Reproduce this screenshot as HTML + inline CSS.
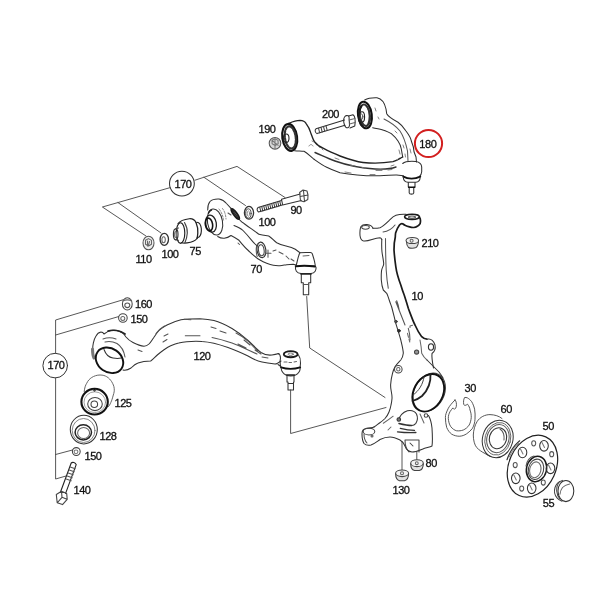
<!DOCTYPE html>
<html><head><meta charset="utf-8">
<style>
html,body{margin:0;padding:0;background:#fff;}
svg{display:block;will-change:transform;}
text{font-family:"Liberation Sans",sans-serif;font-size:11px;letter-spacing:-0.45px;fill:#111;stroke:#111;stroke-width:0.3px;}
</style></head>
<body>
<svg width="600" height="600" viewBox="0 0 600 600">
<g fill="none" stroke="#2e2e2e" stroke-width="1.05" stroke-linecap="round" stroke-linejoin="round">

<!-- ===== UPPER ARM 180 ===== -->
<g id="arm180">
  <!-- outer outline right arm + housing -->
  <path d="M364.7,100 C368,98 372,97.5 377,97.7 C381,98.5 384.5,102 386,109 L386.7,113.7 C388,116 392,119 398,122.3 C402,125 404,128 406,131 C409,135 411,139 411.3,141 C413,145 414,149 414,151.7 L416,157 L416.5,162"/>
  <!-- inner edge right arm -->
  <path d="M372.7,127.7 C376,128.5 379,129 382,129.7 C386,131 389,132 391.3,133.7 C394,136 396,138 398,141 C400,144 401,147 401.3,149 L402.7,157"/>
  <!-- inner contour line right arm -->
  <path d="M384,119 C390,122 396,126 400,131 C404,137 406,144 407.5,151 L408,161" stroke="#555"/>
  <!-- left housing top and left arm upper edge -->
  <path stroke-width="1.35" stroke="#222" d="M289,123.3 C293,121.5 297,120.4 300,120.4 C303,120.5 305,121.5 306,123.3 C308,126 310,130 310.7,132.7 C312,136 313,140 314.7,142 C317,145 320,147 324,148.7 C330,152 335,154 340,156 C348,159 355,161.5 363,162.5 C372,163.5 385,163 393,161.7 C397,160.5 399,159 402.7,157"/>
  <!-- left arm lower edge -->
  <path d="M294.7,150.7 C298,151 301,151 304,151.3 C307,153 310,156 313.3,158.7 C318,162 322,165 326.7,167.3 C331,169.5 335,171 340,172.7 C352,175 367,176 380,175.8 C388,175.5 393,174.8 396.7,175 L403.3,175.8"/>
  <!-- left arm inner contour -->
  <path d="M315,152.5 C322,155.5 328,158.5 335,161 C345,164.5 360,168 375,169 C385,169.5 392,168.5 396,167" stroke="#333" stroke-width="1.4"/>
  
  <path d="M312,141 l2,1 M309,146 c1,-2 3,-2 4,0 M318,146 l1.5,1.5 M322,149 l1,1 M335,158 l4,1.5 M350,165 l5,1 M362,167.5 l4,0.5 M376,170.5 l6,0 M388,170 l4,-0.5 M345,172 l6,1 M370,174.5 l5,0 M391,166 l3,-1 M397,160 l2,-2 M375,108 l1,3 M378,117 l1,2 M395,131 l2,2 M403,145 l1,3 M405,154 l0.5,3 M399,150 l1,4 M410,149 l1,4" stroke="#777" stroke-width="0.9"/>
  <!-- left bushing -->
  <ellipse cx="289.7" cy="137.4" rx="7.4" ry="13.6" transform="rotate(-8 289.7 137.4)" stroke="#111" stroke-width="2.1"/>
  <ellipse cx="290.3" cy="137.4" rx="5.4" ry="11.2" transform="rotate(-8 290.3 137.4)" stroke="#333" stroke-width="2.2" stroke-dasharray="2.2 1.3"/>
  <ellipse cx="286.2" cy="138.2" rx="2.8" ry="4.2" stroke="#222" stroke-width="1.1"/>
  <!-- right bushing -->
  <ellipse cx="364.9" cy="115" rx="6.9" ry="13.4" transform="rotate(-8 364.9 115)" stroke="#111" stroke-width="2"/>
  <ellipse cx="364.9" cy="115.2" rx="5" ry="10.8" transform="rotate(-8 364.9 115.2)" stroke="#333" stroke-width="2" stroke-dasharray="2.5 1.2"/>
  <path d="M361.5,106 C359,109 358.5,116 359.5,121 C360,123.5 361,125 362.5,126" stroke="#1a1a1a" stroke-width="2"/>
  <path d="M366,105.5 C369,107.5 370,114.5 369,120.5 C368.5,123.5 367.5,125.5 366,126.5" stroke="#333" stroke-width="1.4"/>
  <ellipse cx="362" cy="117" rx="2.6" ry="5.2" stroke="#222" stroke-width="1.1"/>
  <ellipse cx="361.6" cy="116.8" rx="1.3" ry="2.8" stroke="#444" stroke-width="0.9"/>
  <!-- ball joint 180 -->
  <path d="M402.7,163.5 C405,161.5 409,161 415.8,161.5 C419,162 421.5,164 421.7,167 L421.7,171.7 C421.5,174 420.5,175.5 419.5,176.5"/>
  <path d="M403.3,176.6 C408,179 415,179 420.2,176.6" stroke="#111" stroke-width="2"/>
  <path d="M403.3,177.5 C403.5,180 405,182 408,182.3 L415.8,182.3 C418.5,182 420,180 420.2,177.5"/>
  <path d="M408.3,182.5 L408.3,186.7 L409.2,187.5 L409.2,193 C409.5,194.5 413.5,194.5 413.75,193 L413.75,187.5 L415,186.7 L415,182.5"/>
  <path d="M408.6,187.2 L414.7,187.2" stroke="#111" stroke-width="1.5"/>
  <!-- bolt 200 -->
  <path d="M316,128.8 L344.5,120 M317,133.6 L345,125.2 M316,128.8 C314.5,130 315,132.5 317,133.6"/>
  <path d="M318.5,128.2 l1.2,4.6 M321,127.4 l1.2,4.6 M323.5,126.6 l1.2,4.6 M326,125.8 l1.2,4.6" stroke="#444"/>
  <path d="M344.5,117 C343,119 343.5,125 346,127.5 C348,128.5 349.5,127 349.5,125 L349,116.5 C347.5,115 345.5,115.5 344.5,117 Z"/>
  <path d="M348.5,116 L353,114.7 C355,116 355.5,121 354.8,126 L350,128"/>
  <path d="M349,120 L355,118.5 M349.5,124 L355,122.5" stroke="#666"/>
  <!-- nut 190 -->
  <circle cx="275" cy="143.3" r="5.8" stroke="#555" fill="#d8d8d8"/>
  <path d="M272,140.3 l3,-1.6 l3,1.7 l0.2,3.3 l-3,1.8 l-3.1,-1.7 z M275,138.7 L275,148.3 M272,140.3 l6.2,5" stroke="#777"/>
</g>


<!-- ===== GROUP 170 TOP ===== -->
<g id="g170top" stroke="#333">
  <circle cx="181.9" cy="183.6" r="12.4" stroke="#333"/>
  <path d="M170.2,187.6 L102.4,207 L146,236 M118,202.6 L161,233 M195,180.2 L237,166.4 L285,197.5 M204,177.3 L245.5,205.5" stroke="#444" stroke-width="0.9"/>
</g>
<!-- nut 110 -->
<g stroke="#555">
  <ellipse cx="148.5" cy="243" rx="5.5" ry="6.8" fill="#eeeeee"/>
  <path d="M145.5,240.3 l3,-1.7 l3,1.8 l0,3.8 l-3,1.8 l-3,-1.8 z M147.5,241 l0,5 M149.5,241.5 l-1,3.5" stroke="#666"/>
</g>
<!-- washer 100 left -->
<g stroke="#333">
  <ellipse cx="164.3" cy="239.3" rx="4.2" ry="6" stroke-width="1.3"/>
  <ellipse cx="163.6" cy="239.8" rx="1.7" ry="3" stroke="#666"/>
</g>
<!-- bushing 75 -->
<g stroke="#222" stroke-width="1.15">
  <path d="M178,223.5 C180,221 184,219.3 189.3,218.7 C192,218.5 194.5,219.5 196,222.5"/>
  <path d="M181.3,242.7 C184,243.5 190,243 193.3,241.3 C195,240.5 196.2,239.5 197,238.5"/>
  <path d="M196,222.5 C197.5,226 198,230 197.8,233 C197.6,236 197.3,237.5 197,238.5" stroke="#222" stroke-width="1.3"/>
  <path d="M197,222.3 C199,222.5 200.8,225 201.3,228.5 C201.6,232 200.8,235.5 199,237 L197.2,237.8"/>
  <ellipse cx="180.5" cy="233" rx="4.3" ry="10.3"/>
  <path d="M184.5,222.5 C186.5,226 187.5,230 187.3,233 C187,237 186.3,240 185,242.5" stroke="#444"/>
  <ellipse cx="175.7" cy="234.3" rx="2.3" ry="5.5" stroke="#333"/>
  <path d="M175.7,228.8 L178.5,228 M175.7,239.8 L178.5,240.3" stroke="#444"/>
  <ellipse cx="175.5" cy="234.5" rx="1" ry="3" stroke="#777"/>
</g>
<!-- washer 100 right -->
<g stroke="#333">
  <ellipse cx="249" cy="212.8" rx="4.6" ry="6.4" stroke-width="1.3"/>
  <ellipse cx="248.4" cy="213.5" rx="2.7" ry="4.7" stroke="#444" stroke-width="1"/>
  <ellipse cx="248.4" cy="213.6" rx="1.2" ry="2.7" stroke="#777" stroke-width="0.8"/>
</g>
<!-- bolt 90 -->
<g stroke="#333">
  <path d="M258,207.6 L281.5,200.6 M258.5,212 L282,205 M258,207.6 C256.5,209 257,211 258.5,212"/>
  <path d="M259.8,207.3 l1,4.4 M261.8,206.7 l1,4.4 M263.8,206.1 l1,4.4 M265.8,205.5 l1,4.4 M267.8,204.9 l1,4.4 M269.8,204.3 l1,4.4 M271.8,203.7 l1,4.4 M273.8,203.1 l1,4.4 M275.8,202.5 l1,4.4 M277.8,201.9 l1,4.4 M279.8,201.3 l1,4.4" stroke="#333" stroke-width="1"/>
  <path d="M281.5,199.3 L300.2,194 M282.7,205 L301.3,200.4 M281.5,199.3 L282.7,205"/>
  <path d="M299.6,192.5 L303,190 L307,191 L308,195 L307.8,199.5 L304,201.8 L300.5,200.8 Z M303.5,190.5 L304.5,201.5 M300,196.5 L308,195" stroke="#444"/>
</g>

<!-- ===== ARM 70 ===== -->
<g id="arm70" stroke="#333">
  <path d="M207.7,210 C207.5,206 208,204 210,201.5 C212,199.5 215,198.8 219,199 C222,199.5 224.5,201 226.5,203.5 L231,208.3"/>
  <path d="M239,219.3 C240.5,220.5 241.5,221.7 243,222.7 C246,225 248.5,227 251.5,228.9 C254,230.5 256.5,232.5 258.9,234.3 C262,235.3 265.5,235.6 268.7,236 C272,238 274,241 276.7,242.7 C280,244.5 283,245.5 286,246 C290,247 293,248 295.3,249.3 L300,252.7"/>
  <path d="M217.7,236.5 C220,238 222,238.5 224.3,238.3 C227,238 229,237 231,235.5 C234,237 236.5,238.5 239,240.3 C242,244 245,247.5 248.3,250.5 C251,253 253.5,255.5 256,257.3 C257.5,258.5 258.8,259.3 260,260 C262,261.2 264.5,262.4 266.7,263.3 C269,264.3 271,265 273.3,265.3 C275.5,265.7 278,265.8 280,265.7 C282.5,265.5 284.5,265 286.7,264.7 C289,264.4 291,264.3 293.3,264.3 L296,265"/>
  <!-- bushing front -->
  <ellipse cx="215" cy="222" rx="7.5" ry="13.2" transform="rotate(-10 215 222)"/>
  <ellipse cx="211" cy="223.6" rx="5.3" ry="8.6" transform="rotate(-10 211 223.6)" stroke="#222" stroke-width="1.3"/>
  <ellipse cx="209" cy="224.5" rx="3.6" ry="6.4" transform="rotate(-10 209 224.5)" stroke="#111" stroke-width="1.6"/>
  <path d="M219,209 C221.5,212 223,216 223.5,220 M222.5,208.5 C224.5,211 225.8,215 226,219" stroke="#777" stroke-width="0.9" stroke-dasharray="2 1.5"/>
  <path d="M208.5,213 C209,211.5 210,210.5 211.5,210" stroke="#222" stroke-width="1.5"/>
  <!-- back bushing -->
  <ellipse cx="235.3" cy="214" rx="1.7" ry="6.3" transform="rotate(-36.5 235.3 214)" stroke="#1a1a1a" stroke-width="1.8" fill="#777"/>
  <path d="M231,208.3 L239,219.3" stroke="#222"/>
  <!-- hole -->
  <ellipse cx="261.4" cy="249.9" rx="4.4" ry="7.8" transform="rotate(-8 261.4 249.9)" stroke="#333" stroke-width="1.2"/>
  <ellipse cx="261.3" cy="250.3" rx="2.8" ry="5.5" transform="rotate(-8 261.3 250.3)" stroke="#444"/>
  <path d="M258,243.5 C256,245.5 255.6,251.5 257.2,256.5" stroke="#555"/>
  <!-- detail dashes -->
  <path d="M234,225.5 C238,227 241,228.5 243,230.5 C246,233.5 249,237 251.7,240.3 C253.5,242.5 255.5,244.5 257,245.7" stroke="#333"/>
  <path d="M228,213 l3,2 M238,243 l1.5,1.5 M265.5,253.3 l5.5,0 M268,250 l0,7.3 M273,251 l3,-1 M279,252 l4,2 M286,256 l3,3 M291,259 l3,2" stroke="#555"/>
  <!-- ball joint 70 -->
  <path d="M296.3,265 L297.3,261 C297.9,258 298.8,255 299.9,252.8 C303,252.4 307,252.4 310.4,252.6 C311.5,252.8 312,253.2 312.3,253.8 C313,256 314,259 314.5,261.3 L315.2,265"/>
  <path d="M295.8,266.2 C302,265.4 308,265.5 315,266.4" stroke="#111" stroke-width="2.1"/>
  <path d="M295.5,267 C295,270 296.5,273 301,273.5 L311,273.5 C315,273 316.5,270 316,267"/>
  <path d="M301.3,273.5 L301.3,282.7 L303.3,282.7 L303.3,294.7 L308.7,294.7 L308.7,282.7 L310.7,282.7 L310.7,273.5"/>
  <path d="M301,274 L311,274" stroke="#222" stroke-width="1.6"/><path d="M303.3,284.5 L308.7,284.5" stroke="#555"/>
  <path d="M303,256 L309,255.5" stroke="#666"/>
</g>


<!-- ===== LEFT GROUP 170 ===== -->
<g stroke="#444" stroke-width="0.9">
  <circle cx="55.2" cy="365.6" r="12.3" stroke="#333" stroke-width="1"/>
  <path d="M55.6,353.3 L55.6,320 L123,299.8 M55.6,335 L118.5,316.6 M55.6,378 L55.6,479 L66,476 M55.6,454.5 L72.5,450"/>
</g>
<!-- nut 160 -->
<g stroke="#444">
  <ellipse cx="127.3" cy="303.9" rx="4.9" ry="6.2"/>
  <ellipse cx="127.3" cy="305.3" rx="2.5" ry="2.3" stroke="#555"/>
  <path d="M123,301 C125,299.5 129.5,299.5 131.6,301" stroke="#666"/>
</g>
<!-- washer 150 top -->
<g stroke="#444">
  <circle cx="122.9" cy="318" r="4.3"/>
  <circle cx="122.8" cy="318.5" r="2" stroke="#666"/>
</g>
<!-- washer 150 bottom -->
<g stroke="#444">
  <circle cx="76.3" cy="451.5" r="3.9"/>
  <circle cx="76" cy="451.8" r="1.9" stroke="#777"/>
</g>
<!-- bolt 140 -->
<g stroke="#222" stroke-width="1.1">
  <path d="M71.2,463 L60.5,492 M76.2,464.6 L65.6,493.4 M71.2,463 C72.5,461.8 75.5,462.5 76.2,464.6"/>
  <path d="M70.2,467 l5,1.7 M69.2,470 l5,1.7 M68.2,473 l5,1.7 M67.2,476 l5,1.7 M66.2,479 l5,1.7" stroke="#555"/>
  <path d="M56.3,494.5 L61.5,491.3 L66.7,493.6 L67.2,499.3 L62.5,504.6 L57.2,502.7 Z M61.5,491.3 L62,497.3 L67,499.2 M62,497.3 L57.5,502.5" stroke="#444"/>
</g>
<!-- bushing 125 -->
<g stroke="#333">
  <path d="M84.2,391.7 C84.5,388 85.5,385 86.7,383.3 C88,380.5 89.5,379 91.7,377.5 C94,376 97,375 100,375 C103,375 105,375.7 106.7,376.7 C109,378 110.5,380 111.7,381.7 C113,384 114,386 114.2,388.3 C114.5,391 114,393 113.3,395 C112.5,398 111.8,400.5 110.8,402.5 C110,404.5 109.2,405.8 108.3,406.7" stroke="#555" stroke-width="0.9"/>
  <ellipse cx="94.6" cy="401.7" rx="13.2" ry="12.8" stroke="#111" stroke-width="2.1"/>
  <ellipse cx="94.8" cy="402.2" rx="10.8" ry="10.4" stroke="#888" stroke-width="0.8"/>
  <ellipse cx="95" cy="404" rx="7.3" ry="6.6" stroke="#444"/>
  <ellipse cx="94.3" cy="404.2" rx="3.3" ry="3.3" stroke="#444"/>
  <path d="M93,389.5 l1.5,1.8 l1.5,-1.8" stroke="#444"/>
</g>
<!-- ring 128 -->
<g stroke="#333">
  <ellipse cx="83.8" cy="429.6" rx="13.5" ry="14.3"/>
  <ellipse cx="83.6" cy="430.5" rx="11.4" ry="12" stroke="#777" stroke-width="0.9"/>
  <ellipse cx="83.3" cy="432.3" rx="8.2" ry="7.6" stroke="#222" stroke-width="1.5"/>
  <ellipse cx="83.6" cy="433" rx="6" ry="5.6" stroke="#666"/>
</g>
<!-- ===== ARM 120 ===== -->
<g id="arm120" stroke="#333">
  <path d="M93,352 C92,346 94,339 96,336 C97,334 98,332.5 101,332 C103,332 104,334 104,334 C106,332.5 108,331 111,330.5 C114,330 117,330.3 119,331 C122,332 124,334 126,337 C128,339.5 130,341 133,342.5 C137,344.5 141,346 144,346.3 C146,346.3 147.5,345.5 149,344 C151,342 152,340 153.5,338 C155.5,335 157,332.5 159,330.5 C161.5,328 164,326.5 167,325 C171,323 176,321 181,319.8 C188,318.8 194,318.7 200,318.7 C206,319 210,319.5 214,320.5 C220,322 226,325 232,328.5 C238,332 243,336 248,340.5 C253,345 257,349.5 261,352.5 C265,355 268,355.5 272,355 C275,354.5 277,354 279,353.5"/>
  <path d="M123,370 C125.5,370.5 128,370 131,368 C133,366 135,364 138,363 C142,361.5 146,361 150.7,361 C153,359.5 155,357 157.3,355 C159.5,353 161.5,351.5 164,349.7 C166.5,348 168.5,346.7 170.7,345.7 C173.5,344.5 176,343.5 178.7,343 C181.5,342.3 184,341.9 186.7,341.7 C192,341.2 197,341 202,341.5 C210,342 218,344 228,347.5 C236,350.5 242,353 248,356 C253,359 257,361 262,362 C267,363 271,363.5 275,364 C277,364 279,362.5 281,361"/>
  <!-- housing shading line -->
  <path d="M108,331 C113,329.5 120,330.5 125,334" stroke="#222" stroke-width="1.8"/>
  <path d="M92.5,349 C92.5,353 93,356 94,358" stroke="#777" stroke-width="3"/>
  <!-- front ring -->
  <ellipse cx="109.5" cy="360.3" rx="14.6" ry="11.8" transform="rotate(35 109.5 360.3)" stroke="#111" stroke-width="1.9"/>
  <path d="M104,349.5 C106,355 109,357.5 113,358 C116,358.5 119,358.5 121,358" stroke="#333"/>
  <path d="M103,339 C107,337.5 112,337.5 116,339 M105,342 C109,341 113,341.5 117,343.5 C121,346 124,351 125,357" stroke="#555"/>
  <!-- arm contour lines -->
  <path d="M156,333.5 C158,330.5 161,328 164.5,326 M164,336 l4,-2 M163,342 l4,-2.5 M138,350 l4,1.5 M236,333 C240,335 244,337.5 248,341 C252,345 255,348.5 258,351 M211,327 l5,1.5 M185.3,335.7 L200,335.7 M212,337.5 C220,339 226,341 232,343 C240,346 248,350 257,354 M184,319.2 l7,0.6 M220,331 l6,2 M238,344 l8,4 M244,340 l6,5 M255,350 l6,4 M262,357 l6,1" stroke="#555"/>
  <!-- ball joint 120 -->
  <path d="M278,353.5 C279.5,354 280.5,356 280.5,358 C280,360 280,363 280.3,364.5 C280.6,366 281,367 281.2,368 M278,364.5 C279,365 280,366 280.5,366.5"/>
  <path d="M298.5,355 C300,357 300.6,360 300.5,363 C300.4,365 300.2,366.5 300,368"/>
  <ellipse cx="290.7" cy="354.2" rx="6.9" ry="3.1" stroke="#1a1a1a" stroke-width="1.9"/>
  <ellipse cx="290.7" cy="354.2" rx="2.6" ry="1.2" stroke="#555" stroke-width="0.8"/>
  <path d="M281,367.3 C287,369.2 294,369.2 300.2,367.3" stroke="#111" stroke-width="1.8"/>
  <path d="M281.2,368.5 C281.5,371 283,373.5 286,375 C288.5,376 293,376 295.5,375 C298.5,373.5 300,371 300.2,368.5"/>
  <path d="M286.7,375 L294.3,375" stroke="#222" stroke-width="1.6"/>
  <path d="M287,376 L287,382 L288,382 L288,390 L293.5,390 L293.5,382 L294,382 L294,376 M288,383.5 L293.5,383.5" stroke="#333"/>
  <path d="M284,362 l3,0 M289,362.5 l2.5,0 M294,362 l2.5,-0.5" stroke="#666"/>
</g>

<!-- ===== CONNECTING LINES ===== -->
<g stroke="#444" stroke-width="0.9">
  <path d="M306.7,296.5 L309.7,348 L385,397.5"/>
  <path d="M290.6,390 L290.6,433.5 L386,407.5"/>
  <path d="M402,441.7 L402,470 M416.8,451.7 L416.8,459.8"/>
</g>


<!-- ===== KNUCKLE 10 ===== -->
<g id="knuckle" stroke="#333">
  <!-- top strut and right edge -->
  <path d="M373,228.3 C376,228.3 378,228.3 380,227.7 C383,226.5 386,223.5 390,219.7 C392,217.5 394,216 396,215.3 C398.5,214.5 401,214 406,214.3"/>
  <path stroke-width="1.7" stroke="#1a1a1a" d="M419.4,217 C420.5,218.5 420.8,221 420.1,223.7 C419.5,225 418.8,225.5 417.8,226 C416.5,226.8 415,227.4 413.7,227.5 C412,227.6 410.8,227.3 409.6,226.9 C408,226.4 406.8,226 405.5,225.4 C404.3,224.8 403.3,224.2 402.6,223.7 C401.5,223.3 400.5,223.8 399.5,225 C398,227 396.5,230 395.6,233 C395.4,234.5 395.3,235.8 395.3,237 C394.3,241 394,245 394,250 C394.4,256 395,261 395.8,266.7 C396.5,272 398.5,279 400.8,285 C402,289 403,292 404.2,295 C405.5,299 406.8,303 408.3,308.3 C410.5,314 412.5,320 415,325 C417,329.5 419.5,334 421.7,336.7 C423.5,338.5 425,339.2 427,339.2"/>
  <path d="M428,339 C431,338.5 434,341 435,345 C435.8,349 434,352 432,353.5 C431.5,358 432.5,363 433.5,368"/>
  <ellipse cx="412" cy="216.8" rx="7.4" ry="2.6" stroke="#1a1a1a" stroke-width="1.6"/>
  <ellipse cx="412" cy="217.1" rx="3.5" ry="1.1" stroke="#444"/>
  <ellipse cx="431" cy="347" rx="2.6" ry="3.2" stroke="#333"/>
  <!-- left lug -->
  <path d="M373,228.3 C372,226 370,224.8 367,224.5 C364.5,224.3 362,225 361,226.5 C360,228.5 359.8,232 360,235.5 C360.3,238 361,240 363,240.8 C365.5,241.5 369,240.5 372,239.5 C375,238.5 378,237.8 380,237.8 C381,238 381.5,238.5 381.8,239.5"/>
  <ellipse cx="365.5" cy="227.3" rx="3.8" ry="1.9" stroke="#444"/>
  <!-- left edge -->
  <path d="M381.8,239.5 C381.6,244 381.6,248 382,252 C382.5,256 383.7,261 383.7,264 C383.5,266.5 381.7,268 381.5,271 C381.2,274 381.2,277 381.3,280 C381.6,284 382.5,288 383.3,290 L386.7,293.3 C387.8,295.5 388.5,298 389.2,300 C390,302.5 391,305 391.7,307 C393,312 394.5,318 395.8,323.3 C397.5,329 399.5,335 400.8,340 C402,345 403.3,350 403.3,353.3 C403,356.5 402,358.5 400.8,360 C398.5,362.5 396.5,364.5 395,366.7 C393.8,369 393,371 392.5,373.3 C391.5,377 390.8,381 390.6,385 C390.6,387 390.8,389 391.2,391 C391.8,394 392.2,396 392,398.5 C391.8,401 391.5,403 391,405 C390.5,408 389.8,410 389,412 C388,414.5 386.8,416.5 385,418.5 C383,420.5 381,422 379.5,423 C377.5,424.5 376,425.8 374,427"/>
  <!-- inner contour lines -->
  <path d="M385.5,238.5 C385.5,248 385.7,258 386.2,270 C386.7,278 387.5,284 388.3,288.3 M383,232 C388,231.5 392,229 395,225 M396.7,300.8 C398,304 398.8,307 399.2,310 M395.8,301.7 L405,325 M408.3,328.3 C409.5,332 410,336 410,340" stroke="#555"/>
  <path d="M420,340 C421,345 421.5,349 421.7,353.3 C423,356 425,358.5 427,360 M410,327.5 l0,-1.5 l2.5,-0.8 M407.5,333.3 l1,4 M409,339 l0.8,3" stroke="#666"/>
  <circle cx="395.9" cy="321.6" r="1.3" fill="#555" stroke="#333" stroke-width="0.8"/><circle cx="398.9" cy="330.8" r="1.4" fill="#333" stroke="#222" stroke-width="0.8"/>
  <!-- eye on left of body -->
  <circle cx="398.3" cy="369.2" r="3.8" stroke="#444"/>
  <circle cx="398.3" cy="369.2" r="1.7" stroke="#666"/>
  <circle cx="416.6" cy="352" r="2.1" stroke="#444" fill="#999"/>
  <!-- bore -->
  <ellipse cx="429.2" cy="392.3" rx="15" ry="20.2" transform="rotate(28 429.2 392.3)" stroke="#444" stroke-width="1"/>
  <ellipse cx="428.3" cy="392.8" rx="14.6" ry="19.8" transform="rotate(28 428.3 392.8)" stroke="#111" stroke-width="1.9"/>
  <path d="M430.5,374 C431,382 428,390 422,396 C419,398.5 416,400 412.5,401" stroke="#222" stroke-width="1.8"/>
  <path d="M424,377 C423,384 419,391 413,395" stroke="#444" stroke-width="1"/>
  <path d="M427,360 C429,362 431,364 433,366 C435,368 437,370 439,372 C440.5,374 442,376 443,378" stroke="#333"/>
  <circle cx="426" cy="415.5" r="1.8" stroke="#444"/>
  <!-- lower body -->
  <path d="M374,427 C372,428 369,428.3 366,428.6 C363.5,429 362,431 362,434 C362,437.5 362.5,441 364,443.5 C365.5,445 368,445.5 371,445 C374,444 377,441.5 380,439.5 C384,437.5 387,437 390,437 C394,437 397,438.5 400,440 C402.5,441.5 404,443 405,446 C406,449 408.5,451.5 412,452 C416,452 420,450 424,448.5 C427,447.5 430,447 432,446 C432.5,443 432.5,436 432,428 C431.5,423 430.5,419 428.5,415.5"/>
  <ellipse cx="369" cy="431.5" rx="5.8" ry="3.4" stroke="#444"/>
  <path d="M364,434 C364,438 365,441 367,443" stroke="#555"/>
  <!-- window -->
  <path d="M398.5,420.5 C399.5,416.5 402.5,412.5 407.4,410.8 C411,410 414.5,411 416.5,414 C417.8,417 417.3,421 415.9,423.3 C414.5,425 413,425.5 411.7,425.5" stroke="#333"/>
  <path d="M398.9,423.5 C403,424.5 408,425.5 411.7,425.5 M400.3,428.3 C405,429.5 410,430.3 414.5,430.4 M397.5,431.8 C403,432.5 410,432.8 415.9,432.5" stroke="#333" stroke-width="1.3"/><path d="M420,414 L424,423 M383.3,423.3 C386,421.5 389,419.5 393.2,416.2 M388,430 l3,-3" stroke="#666"/>
  <path d="M405,440 C405,445 406,449 409,452 M419,440 L419,452 M405,440 L419,440 M410,443 l3,3" stroke="#444"/>
  <circle cx="398.8" cy="419.5" r="1.8" stroke="#333" fill="#777"/>
  <circle cx="372" cy="436" r="1" stroke="#555"/>
</g>
<!-- nut 210 -->
<g stroke="#444">
  <path d="M406.5,240.5 C406.5,244 407.5,246.5 408.5,247.5 C410,248.5 414,248.5 416,247.5 C417.5,246.5 418.3,244 418.5,240.5 Z" fill="#e2e2e2" stroke="none"/><ellipse cx="412.3" cy="240.5" rx="6.3" ry="3.1" fill="#f2f2f2"/>
  <path d="M406.5,241.5 C406.5,244 407.5,246.5 408.5,247.5 C410,248.5 414,248.5 416,247.5 C417.5,246.5 418.3,244 418.5,241.5"/>
  <circle cx="411.6" cy="240.7" r="1.5" stroke="#666"/>
</g>
<!-- nut 130 -->
<g stroke="#444">
  <path d="M395.6,473.3 C395.6,477.5 397,480 399.5,480.8 L404.5,480.8 C407,480 408.6,477.5 408.6,473.3 Z" fill="#e2e2e2" stroke="none"/>
  <ellipse cx="402.1" cy="473.3" rx="6.5" ry="3.3" fill="#f2f2f2"/>
  <path d="M395.6,473.8 C395.6,477.5 397,480 399.5,480.8 L404.5,480.8 C407,480 408.6,477.5 408.6,473.8"/>
  <circle cx="402" cy="473.3" r="1.5" stroke="#666"/>
</g>
<!-- nut 80 -->
<g stroke="#444">
  <path d="M410.7,463.2 C410.7,467 412,469.8 414.5,470.5 L419.3,470.5 C421.8,469.8 423.3,467 423.3,463.2 Z" fill="#e2e2e2" stroke="none"/>
  <ellipse cx="417" cy="463.2" rx="6.3" ry="3.4" fill="#f2f2f2"/>
  <path d="M410.7,463.7 C410.7,467 412,469.8 414.5,470.5 L419.3,470.5 C421.8,469.8 423.3,467 423.3,463.7"/>
  <circle cx="416.8" cy="463.2" r="1.4" stroke="#666"/>
</g>
<!-- ===== CIRCLIP 30 ===== -->
<path d="M455,400 C452,403 449.5,406 448.3,408.3 C446.5,412 445.3,415 445.4,417.5 C445.5,421 445.8,424.5 446.7,427.5 C448,430.5 449.5,432.5 451.7,434.2 C454,435.5 456.5,436.2 459.2,436.25 C462,436.2 464.5,435.2 466.7,433.75 C469,432 471,430.5 472.5,428.3 C474,425.5 474.8,422.5 475,419.2 C475.2,415.5 475.2,412.5 474.6,409.2 C473.8,406 473,404 471.7,401.7 C470,399.5 468.5,398.5 467.5,397.9 C466.5,397.5 465.5,397.3 464.6,397.5 C463.5,399.5 463.3,402 463.75,404.6 C464.5,405.5 465.5,405.8 467.5,404.2 C469,406 469.8,408 470,410 C471,412.5 471.3,415 471.25,417.5 C471,420 470.5,422.5 469.2,425 C467.5,427.5 465.5,429 463.3,430 C461,430.8 459,431 456.7,430.8 C454.5,430.3 452.5,428.8 450.8,426.7 C449.3,424.5 448.5,421.5 448.3,418.3 C448.3,415.5 449,413.5 450,411.7 C451,410 452,409 452.9,407.9 C453.5,409 454,409.3 454.6,409.2 C455.5,408.5 456,407.8 456.25,406.7 C456.5,405 456.5,403.5 456.25,402.5 C456,401.5 455.7,400.5 455,400 Z" fill="none" stroke="#444" stroke-width="0.9"/>

<!-- ===== BEARING 60 ===== -->
<g stroke="#444">
  <path d="M502,418.5 C499,416 495,414.8 490,414.6 C485,414.6 480,417 477,421.7 C475,425 473.5,430 473.3,435 C473.3,440 474.5,445 476.7,447.5 C479,450 482,452 485,453.5 C487,455 489,456 491,456.5" stroke-width="0.9"/>
  <ellipse cx="497.7" cy="439" rx="15.2" ry="19" transform="rotate(15 497.7 439)" stroke="#333" stroke-width="1"/>
  <ellipse cx="497.8" cy="438.8" rx="12.8" ry="16.5" transform="rotate(15 497.8 438.8)" stroke="#666" stroke-width="0.9"/>
  <ellipse cx="497.9" cy="438.6" rx="11" ry="14.2" transform="rotate(15 497.9 438.6)" stroke="#555" stroke-width="1"/>
  <ellipse cx="498" cy="438.2" rx="8.6" ry="10.6" transform="rotate(15 498 438.2)" stroke="#333" stroke-width="1.1"/>
  <path d="M500,429 C503,431 504.5,435 504,440" stroke="#555"/>
</g>

<!-- ===== HUB 50 ===== -->
<g stroke="#333">
  <ellipse cx="532.45" cy="466.2" rx="23.5" ry="32.2" transform="rotate(24.4 532.45 466.2)" stroke="#222" stroke-width="1.2"/>
  <path d="M507.0,459.7 L508.2,456.5 L509.6,453.5 L511.3,450.5 L513.1,447.8 L515.2,445.2 L517.4,442.9 L519.7,440.8" stroke="#333" stroke-width="1.2"/>
  <path d="M509.4,457.0 L510.8,454.0 L512.5,451.0 L514.3,448.3 L516.4,445.7 L518.6,443.4" stroke="#666" stroke-width="0.8"/>
  <ellipse cx="536.5" cy="469" rx="10" ry="12.8" transform="rotate(13.5 536.5 469)" stroke="#1a1a1a" stroke-width="1.5"/>
  <ellipse cx="536" cy="469.3" rx="7.6" ry="10.3" transform="rotate(13.5 536 469.3)" stroke="#444"/>
  <ellipse cx="535.3" cy="469.8" rx="5.6" ry="8" transform="rotate(13.5 535.3 469.8)" stroke="#666"/>
  <path d="M526,466 C527,460 530,457 534,456" stroke="#555"/>
  <!-- big bolt holes -->
  <ellipse cx="544" cy="445.8" rx="4.3" ry="5.3"/>
  <ellipse cx="522.5" cy="452.5" rx="4.3" ry="5.3"/>
  <ellipse cx="515.8" cy="478.3" rx="4.3" ry="5.3"/>
  <ellipse cx="531.7" cy="488.3" rx="4.3" ry="5.3"/>
  <ellipse cx="550.5" cy="468.3" rx="4.3" ry="5.3"/>
  <path d="M542,442.5 l2.5,5 M520.5,449 l2.5,5 M513.8,475 l2.5,5 M529.7,485 l2.5,5 M548.5,465 l2.5,5" stroke="#777"/>
  <!-- small holes -->
  <ellipse cx="533.7" cy="443.3" rx="2" ry="2.6" stroke="#555"/>
  <ellipse cx="551.7" cy="454.2" rx="2" ry="2.6" stroke="#555"/>
  <ellipse cx="515.2" cy="465" rx="2" ry="2.6" stroke="#555"/>
  <ellipse cx="521.7" cy="488.5" rx="2" ry="2.6" stroke="#555"/>
  <ellipse cx="543.3" cy="482.5" rx="2" ry="2.6" stroke="#555"/>
</g>

<!-- ===== CAP 55 ===== -->
<g stroke="#444">
  <path d="M562.4,480.4 C559,481.5 556,484 555,487.5 C554,491 554.5,495 557,497.8 C558.5,499.5 560,500.5 562,501.2"/>
  <path d="M559.5,481.5 C557.5,484 556.5,487.5 556.7,491 C557,494.5 558,497 560,499"/>
  <ellipse cx="565.9" cy="491" rx="7.9" ry="10.6" stroke="#333"/>
  <path d="M560,494.2 C560.3,491.5 561,489.4 562.5,487.5 C564,486 566.5,484.7 569.6,484" stroke="#666"/>
</g>

<!-- red circle 180 -->
<circle cx="428.5" cy="143.5" r="13.6" fill="none" stroke="#d21f1f" stroke-width="2"/>

</g>

<!-- labels -->
<g>
<text x="322" y="117.5">200</text>
<text x="421.5" y="247.0">210</text>
<text x="411.5" y="300.0">10</text>
<text x="392.5" y="494.0">130</text>
<text x="425.5" y="467.4">80</text>
<text x="464.5" y="392.0">30</text>
<text x="500.5" y="413.0">60</text>
<text x="542.5" y="430.0">50</text>
<text x="542.8" y="507.0">55</text>

<text x="135" y="308.4">160</text>
<text x="130.5" y="323.0">150</text>
<text x="47.5" y="369.2">170</text>
<text x="193.5" y="359.6">120</text>
<text x="114.5" y="407.0">125</text>
<text x="99.5" y="440.0">128</text>
<text x="84.5" y="460.3">150</text>
<text x="73.5" y="493.7">140</text>

<text x="290.4" y="213.9">90</text>
<text x="258.5" y="226.0">100</text>
<text x="135.5" y="262.8">110</text>
<text x="161.5" y="258.2">100</text>
<text x="189.5" y="255.0">75</text>
<text x="250.5" y="273.0">70</text>
<text x="174.5" y="188.0">170</text>

<text x="258.5" y="132.7">190</text>
<text x="419.3" y="147.9">180</text>
</g>
</svg>
</body></html>
